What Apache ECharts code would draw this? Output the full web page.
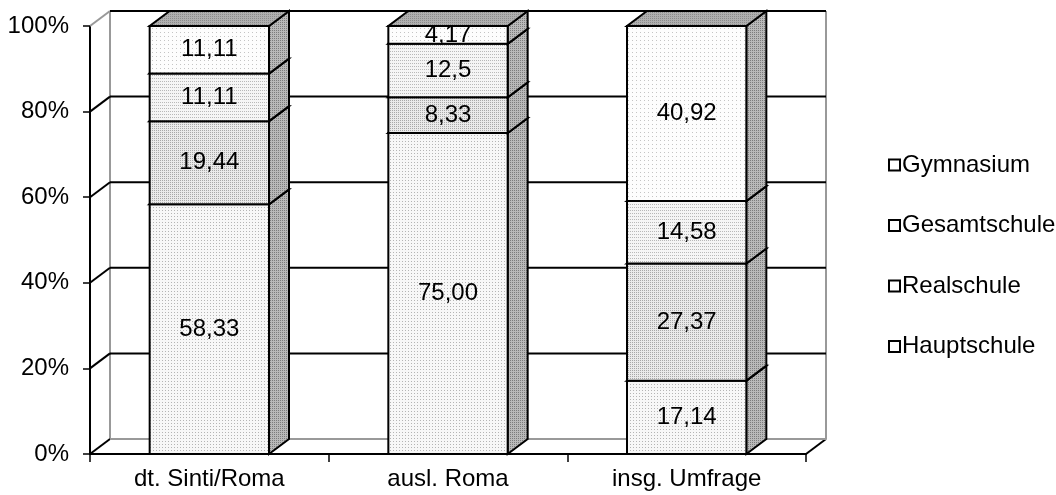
<!DOCTYPE html>
<html>
<head>
<meta charset="utf-8">
<title>Schulformen</title>
<script src="https://cdn.jsdelivr.net/npm/echarts@6/dist/echarts.min.js"></script>
<style>
  html, body { margin: 0; padding: 0; background: #fff; }
  #chart { width: 1056px; height: 495px; }
</style>
</head>
<body>
<div id="chart"></div>
<script>
// Categories and shares (percent) per school type, stacked bottom to top
const categories = ['dt. Sinti/Roma', 'ausl. Roma', 'insg. Umfrage'];
const hauptschule = [58.33, 75.00, 17.14];
const realschule = [19.44, 8.33, 27.37];
const gesamtschule = [11.11, 12.5, 14.58];
const gymnasium = [11.11, 4.17, 40.92];
const percentTicks = [0, 20, 40, 60, 80, 100];

const seriesNames = ['Hauptschule', 'Realschule', 'Gesamtschule', 'Gymnasium'];
const seriesValues = [hauptschule, realschule, gesamtschule, gymnasium];

// 3D depth offset of the chart box
const DX = 20, DY = -15;
const FONT = '"Liberation Sans", Arial, sans-serif';
const FONT_SIZE = 24;

// Small dotted fill textures
function dotted(bg, dot, sx, sy) {
  const c = document.createElement('canvas');
  c.width = sx; c.height = sy;
  const g = c.getContext('2d');
  g.fillStyle = bg; g.fillRect(0, 0, sx, sy);
  g.fillStyle = dot; g.fillRect(0, 0, 1, 1);
  return { image: c, repeat: 'repeat' };
}
const frontFills = [
  dotted('#f7f7f7', '#b4b4b4', 3, 3),
  dotted('#eaeaea', '#a8a8a8', 2, 2),
  dotted('#f5f5f5', '#b8b8b8', 2, 3),
  dotted('#fdfdfd', '#c4c4c4', 4, 4)
];
const sideFill = dotted('#b9b9b9', '#7c7c7c', 2, 2);
const topFill = dotted('#b0b0b0', '#8c8c8c', 2, 2);

function fmt(v) {
  const s = Number.isInteger(v) ? v.toFixed(2) : String(v);
  return s.replace('.', ',');
}

// Stacked data: [categoryIndex, base, value]
function stackedData(idx) {
  return categories.map((c, i) => {
    let base = 0;
    for (let k = 0; k < idx; k++) base += seriesValues[k][i];
    return [i, base, seriesValues[idx][i]];
  });
}

function makeSegmentRenderer(idx) {
  return function (params, api) {
    const cat = api.value(0), base = api.value(1), val = api.value(2);
    const pb = api.coord([cat, base]);
    const pt = api.coord([cat, base + val]);
    const bw = api.size([1, 0])[0] * 0.5;
    const x0 = pb[0] - bw / 2, x1 = pb[0] + bw / 2;
    const yb = pb[1], yt = pt[1];
    const stroke = { stroke: '#000', lineWidth: 2 };
    const children = [
      {
        type: 'polygon',
        shape: { points: [[x1, yb], [x1 + DX, yb + DY], [x1 + DX, yt + DY], [x1, yt]] },
        style: Object.assign({ fill: sideFill }, stroke)
      },
      {
        type: 'polygon',
        shape: { points: [[x0, yt], [x1, yt], [x1 + DX, yt + DY], [x0 + DX, yt + DY]] },
        style: Object.assign({ fill: topFill }, stroke)
      },
      {
        type: 'rect',
        shape: { x: x0, y: yt, width: x1 - x0, height: yb - yt },
        style: Object.assign({ fill: frontFills[idx] }, stroke)
      },
      {
        type: 'text',
        x: (x0 + x1) / 2,
        y: (yb + yt) / 2,
        style: {
          text: fmt(val),
          fill: '#000',
          font: FONT_SIZE + 'px ' + FONT,
          align: 'center',
          verticalAlign: 'middle'
        }
      }
    ];
    return { type: 'group', children: children };
  };
}

// Back wall, side wall, floor and gridlines
function renderWalls(params, api) {
  const cs = params.coordSys;
  const left = cs.x, right = cs.x + cs.width;
  const top = cs.y, bottom = cs.y + cs.height;
  const gray = { stroke: '#999', lineWidth: 2 };
  const black = { stroke: '#000', lineWidth: 2 };
  const children = [
    { type: 'line', shape: { x1: left + DX, y1: top + DY, x2: left + DX, y2: bottom + DY }, style: gray },
    { type: 'line', shape: { x1: right + DX, y1: top + DY, x2: right + DX, y2: bottom + DY }, style: gray },
    { type: 'line', shape: { x1: right, y1: bottom, x2: right + DX, y2: bottom + DY }, style: black }
  ];
  percentTicks.forEach(function (v) {
    const y = api.coord([0, v])[1];
    const isFloor = v === percentTicks[0];
    const isTop = v === percentTicks[percentTicks.length - 1];
    children.push({ type: 'line', shape: { x1: left, y1: y, x2: left + DX, y2: y + DY }, style: isTop ? gray : black });
    children.push({ type: 'line', shape: { x1: left + DX, y1: y + DY, x2: right + DX, y2: y + DY }, style: isFloor ? gray : black });
  });
  return { type: 'group', children: children };
}

const chart = echarts.init(document.getElementById('chart'), null, { renderer: 'canvas' });

const series = [{
  type: 'custom',
  name: 'walls',
  renderItem: renderWalls,
  data: [[0, 0]],
  silent: true,
  z: 1
}];
seriesNames.forEach(function (name, idx) {
  series.push({
    type: 'custom',
    name: name,
    renderItem: makeSegmentRenderer(idx),
    encode: { x: 0, y: [1, 2] },
    data: stackedData(idx),
    z: 2 + idx
  });
});

const legendIcon = { color: '#fff', borderColor: '#000', borderWidth: 2 };

chart.setOption({
  animation: false,
  backgroundColor: '#fff',
  textStyle: { fontFamily: FONT },
  grid: { left: 90, right: 250, top: 26, bottom: 41, containLabel: false },
  xAxis: {
    type: 'category',
    data: categories,
    axisLine: { lineStyle: { color: '#000', width: 2 } },
    axisTick: { show: true, length: 8, lineStyle: { color: '#000', width: 1.5 } },
    axisLabel: { color: '#000', fontSize: FONT_SIZE, margin: 13, fontFamily: FONT },
    splitLine: { show: false }
  },
  yAxis: {
    type: 'value',
    min: 0,
    max: 100,
    interval: 20,
    axisLine: { show: true, lineStyle: { color: '#000', width: 2 } },
    axisTick: { show: true, length: 7, lineStyle: { color: '#000', width: 1.5 } },
    axisLabel: { color: '#000', fontSize: FONT_SIZE, margin: 21, fontFamily: FONT, formatter: '{value}%' },
    splitLine: { show: false }
  },
  legend: {
    orient: 'vertical',
    left: 883,
    top: 148,
    itemWidth: 11,
    itemHeight: 11,
    itemGap: 36.5,
    icon: 'rect',
    textStyle: { color: '#000', fontSize: FONT_SIZE, fontFamily: FONT, padding: [0, 0, 0, -3] },
    data: ['Gymnasium', 'Gesamtschule', 'Realschule', 'Hauptschule'].map(function (n) {
      return { name: n, itemStyle: legendIcon };
    }),
    selectedMode: false
  },
  series: series
});
</script>
</body>
</html>
